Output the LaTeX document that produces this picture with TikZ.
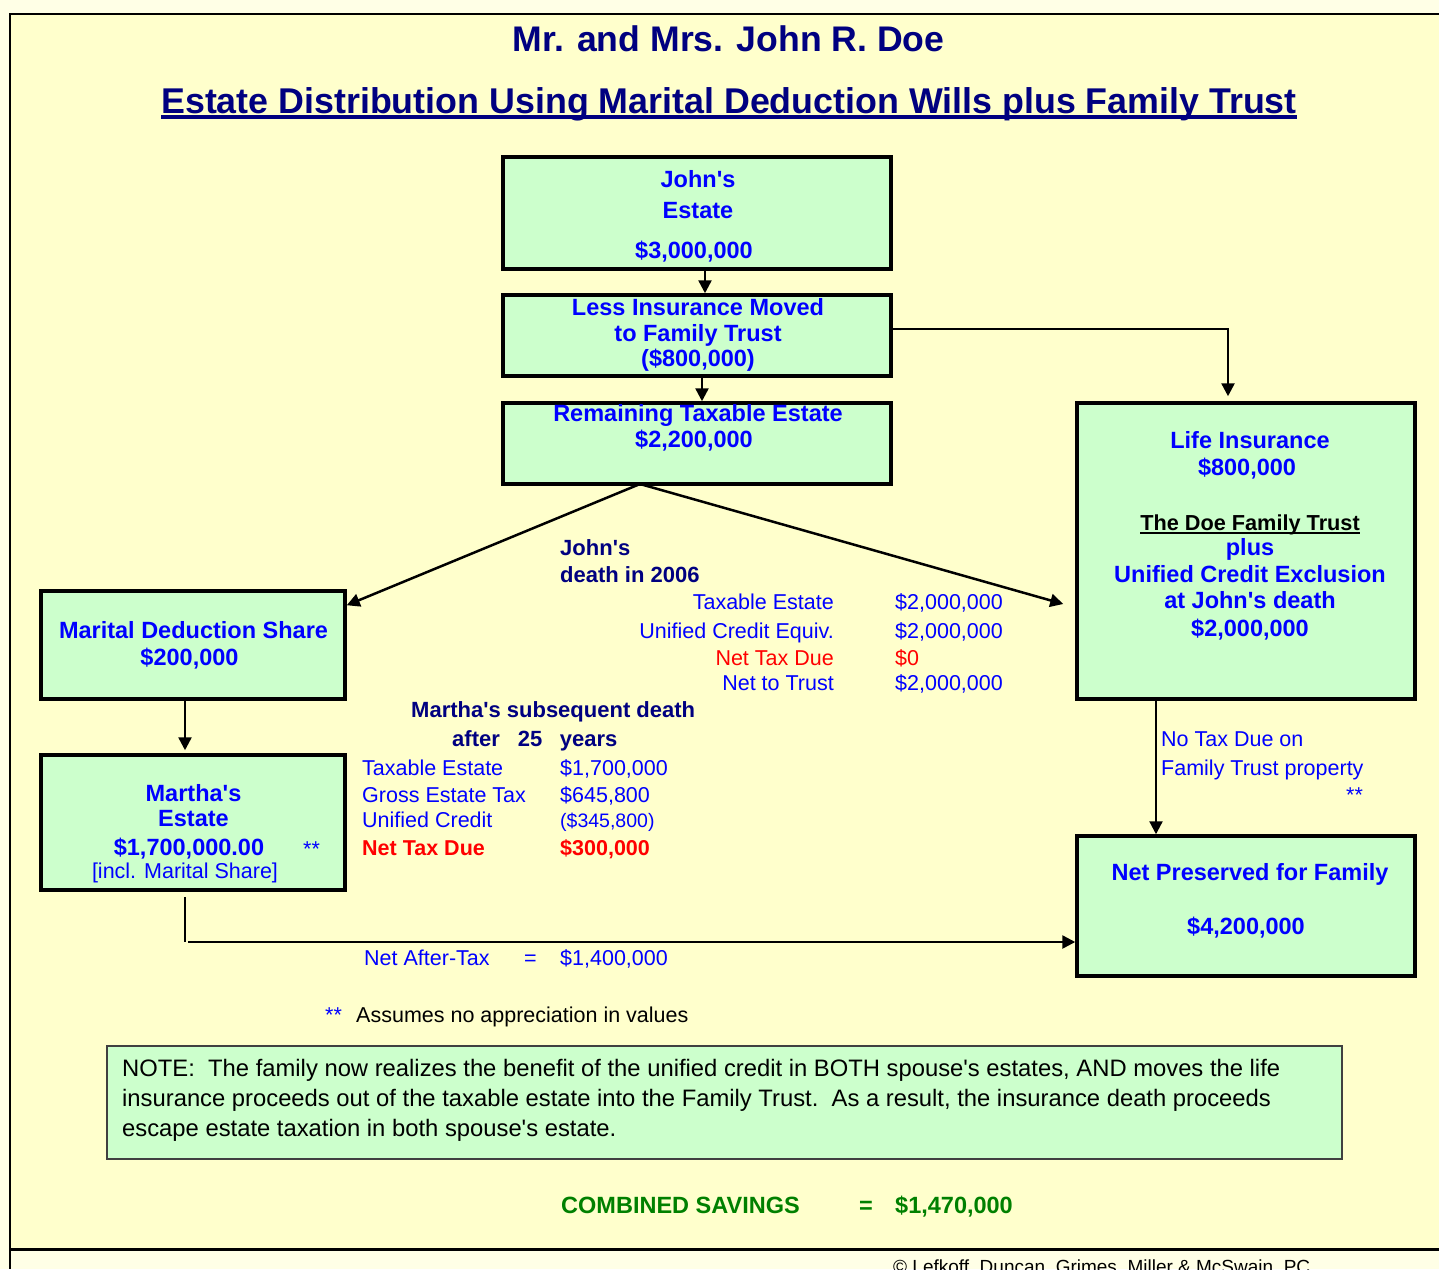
\documentclass[tikz,border=0pt]{standalone}
\usepackage{fontspec}
\setmainfont{Liberation Sans}[Ligatures=TeXOff]
\usetikzlibrary{arrows.meta}
\definecolor{bgout}{HTML}{FFFFE6}
\definecolor{bgin}{HTML}{FFFFCC}
\definecolor{boxfill}{HTML}{CCFFCC}
\definecolor{tblue}{HTML}{0000FF}
\definecolor{tnavy}{HTML}{000080}
\definecolor{tred}{HTML}{FF0000}
\definecolor{tgreen}{HTML}{008000}
\begin{document}
\begin{tikzpicture}[x=1pt,y=-1pt,
  box/.style={draw=black, line width=3.5pt, fill=boxfill, inner sep=0pt},
  notebox/.style={draw=black!75, line width=1.3pt, fill=boxfill, inner sep=0pt},
  btxt/.style={text=tblue, font=\fontsize{23.5}{28}\selectfont\bfseries, inner sep=0pt, anchor=base},
  rtxt/.style={text=tblue, font=\fontsize{21.5}{26}\selectfont, inner sep=0pt, anchor=base west},
  rtxtr/.style={rtxt, anchor=base east},
  ntxt/.style={text=tnavy, font=\fontsize{22}{26}\selectfont\bfseries, inner sep=0pt, anchor=base west},
  notetxt/.style={rtxt, text=black, font=\fontsize{23.8}{28}\selectfont},
  conn/.style={line width=2.5pt, -{Triangle[length=13pt,width=13pt]}},
  thinline/.style={line width=1.4pt}
]
\useasboundingbox (0,0) rectangle (1439,1269);
\clip (0,0) rectangle (1439,1269);
\fill[bgout] (0,0) rectangle (1439,1269);
\fill[bgin] (10,14) rectangle (1439,1249.5);
\draw[line width=2.8pt] (1439,14) -- (10,14) -- (10,1269);
\draw[line width=2.8pt] (10,1249.5) -- (1439,1249.5);

% titles
\node[text=tnavy, font=\fontsize{35.6}{40}\selectfont\bfseries, inner sep=0pt, anchor=base] (t1) at (728.5,51) {Mr. and Mrs. John R. Doe};
\node[text=tnavy, font=\fontsize{35.8}{40}\selectfont\bfseries, inner sep=0pt, anchor=base] (t2) at (729,113) {Estate Distribution Using Marital Deduction Wills plus Family Trust};
\draw[tnavy, line width=3.5pt] ([yshift=-4pt]t2.base west) -- ([yshift=-4pt]t2.base east);

% boxes
\node[box, minimum width=388pt, minimum height=112pt] (je) at (697,213) {};
\node[box, minimum width=388pt, minimum height=81pt] (li) at (697,335.5) {};
\node[box, minimum width=388pt, minimum height=81pt] (rt) at (697,443.5) {};
\node[box, minimum width=338pt, minimum height=296pt] (lf) at (1246,551) {};
\node[box, minimum width=304pt, minimum height=108pt] (md) at (193,645) {};
\node[box, minimum width=304pt, minimum height=135pt] (me) at (193,822.5) {};
\node[box, minimum width=338pt, minimum height=140pt] (np) at (1246,906) {};
\node[notebox, minimum width=1235pt, minimum height=113pt] (nb) at (724.5,1102.5) {};

% box texts
\node[btxt] (je1) at (698,187) {John's};
\node[btxt] (je2) at (698,218) {Estate};
\node[btxt] (je3) at (694,258) {\$3,000,000};
\node[btxt] (li1) at (698,315) {Less Insurance Moved};
\node[btxt] (li2) at (698,341) {to Family Trust};
\node[btxt] (li3) at (698,366) {(\$800,000)};
\node[btxt] (rt1) at (698,421) {Remaining Taxable Estate};
\node[btxt] (rt2) at (694,447) {\$2,200,000};
\node[btxt] (lf1) at (1250,448) {Life Insurance};
\node[btxt] (lf2) at (1247,475) {\$800,000};
\node[btxt, text=black, font=\fontsize{21.7}{26}\selectfont\bfseries] (lf3) at (1250,530) {The Doe Family Trust};
\draw[line width=2pt] ([yshift=-3pt]lf3.base west) -- ([yshift=-3pt]lf3.base east);
\node[btxt] (lf4) at (1250,555) {plus};
\node[btxt] (lf5) at (1250,582) {Unified Credit Exclusion};
\node[btxt] (lf6) at (1250,608) {at John's death};
\node[btxt] (lf7) at (1250,636) {\$2,000,000};
\node[btxt] (md1) at (193.5,638) {Marital Deduction Share};
\node[btxt] (md2) at (189.5,665) {\$200,000};
\node[btxt] (me1) at (193.5,801) {Martha's};
\node[btxt] (me2) at (193.5,826) {Estate};
\node[btxt] (me3) at (189,855) {\$1,700,000.00};
\node[rtxt] (me4) at (303,856) {**};
\node[rtxt, anchor=base] (me5) at (185,878) {[incl. Marital Share]};
\node[btxt] (np1) at (1250,880) {Net Preserved for Family};
\node[btxt] (np2) at (1246,934) {\$4,200,000};

% connectors
\draw[conn] ([xshift=8pt]je.south) -- ([xshift=8pt]li.north);
\draw[conn] ([xshift=5pt]li.south) -- ([xshift=5pt]rt.north);
\coordinate (c1) at (1228,329);
\draw[thinline] (li.east |- c1) -- (c1);
\draw[conn, shorten >=5pt] ([yshift=0.7pt]c1) -- (lf.north -| c1);
\coordinate (r0) at (640,484);
\draw[conn] (r0) -- ([yshift=-16pt]md.north east);
\draw[conn] (r0) -- ([xshift=-12pt,yshift=-53pt]lf.west);
\draw[conn, shorten >=3pt] ([xshift=-8pt]md.south) -- ([xshift=-8pt]me.north);
\coordinate (m1) at (185,942);
\draw[thinline] ([xshift=-8pt,yshift=-5pt]me.south) -- (m1);
\draw[conn] ([xshift=3pt]m1) -- (np.west |- m1);
\draw[conn, line width=2.3pt] ([xshift=-90pt]lf.south) -- ([xshift=-90pt]np.north);

% John's death table
\node[ntxt] (jd1) at (560,555) {John's};
\node[ntxt] (jd2) at (560,582) {death in 2006};
\node[rtxtr] (jl1) at (834,609) {Taxable Estate};
\node[rtxtr] (jl2) at (834,638) {Unified Credit Equiv.};
\node[rtxtr, text=tred] (jl3) at (834,665) {Net Tax Due};
\node[rtxtr] (jl4) at (834,690) {Net to Trust};
\node[rtxt] (jv1) at (895,609) {\$2,000,000};
\node[rtxt] (jv2) at (895,638) {\$2,000,000};
\node[rtxt, text=tred] (jv3) at (895,665) {\$0};
\node[rtxt] (jv4) at (895,690) {\$2,000,000};

% Martha's death table
\node[ntxt] (ms1) at (411,717) {Martha's subsequent death};
\node[ntxt] (ms2) at (452,746) {after\hspace{18pt}25\hspace{17.5pt}years};
\node[rtxt] (ml1) at (362,775) {Taxable Estate};
\node[rtxt] (ml2) at (362,802) {Gross Estate Tax};
\node[rtxt] (ml3) at (362,827) {Unified Credit};
\node[rtxt, text=tred, font=\fontsize{21.5}{26}\selectfont\bfseries] (ml4) at (362,855) {Net Tax Due};
\node[rtxt] (mv1) at (560,775) {\$1,700,000};
\node[rtxt] (mv2) at (560,802) {\$645,800};
\node[rtxt, font=\fontsize{19.5}{24}\selectfont] (mv3) at (560,827) {(\$345,800)};
\node[rtxt, text=tred, font=\fontsize{21.5}{26}\selectfont\bfseries] (mv4) at (560,855) {\$300,000};

% trust note
\node[rtxt] (nt1) at (1161,746) {No Tax Due on};
\node[rtxt] (nt2) at (1161,775) {Family Trust property};
\node[rtxt] (nt3) at (1346,802) {**};

% net after tax
\node[rtxt] (na1) at (364,965) {Net After-Tax};
\node[rtxt] (na2) at (524,965) {=};
\node[rtxt] (na3) at (560,965) {\$1,400,000};

% footnote
\node[rtxt] (fn1) at (325,1022) {**};
\node[rtxt, text=black] (fn2) at (356,1022) {Assumes no appreciation in values};

% note
\node[notetxt] (nl1) at (122,1076) {NOTE:\ \ The family now realizes the benefit of the unified credit in BOTH spouse's estates, AND moves the life};
\node[notetxt] (nl2) at (122,1106) {insurance proceeds out of the taxable estate into the Family Trust.\ \ As a result, the insurance death proceeds};
\node[notetxt] (nl3) at (122,1136) {escape estate taxation in both spouse's estate.};

% combined savings
\node[rtxt, text=tgreen, font=\fontsize{23.5}{28}\selectfont\bfseries] (cs1) at (561,1213) {COMBINED SAVINGS};
\node[rtxt, text=tgreen, font=\fontsize{23.5}{28}\selectfont\bfseries] (cs2) at (859,1213) {=};
\node[rtxt, text=tgreen, font=\fontsize{23.5}{28}\selectfont\bfseries] (cs3) at (895,1213) {\$1,470,000};

% copyright (cut off at the lower edge, as in the reference)
\node[rtxt, text=black, font=\fontsize{19}{22}\selectfont] (cp) at (893,1273) {© Lefkoff, Duncan, Grimes, Miller \& McSwain, PC};
\end{tikzpicture}
\end{document}
